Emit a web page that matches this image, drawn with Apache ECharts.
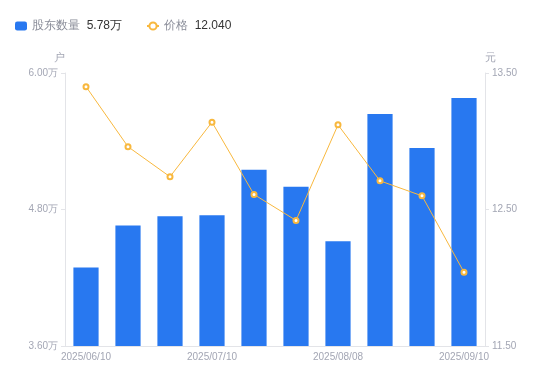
<!DOCTYPE html>
<html><head><meta charset="utf-8">
<script src="https://cdn.jsdelivr.net/npm/echarts@6/dist/echarts.min.js"></script>
<style>html,body{margin:0;padding:0;background:#fff}#c{width:550px;height:381px}</style>
</head><body><div id="c"></div>
<script>
var categories = ['2025/06/10','2025/06/20','2025/06/30','2025/07/10','2025/07/20','2025/07/31','2025/08/08','2025/08/20','2025/08/31','2025/09/10'];
var holders = [4.29, 4.66, 4.74, 4.75, 5.15, 5.00, 4.52, 5.64, 5.34, 5.78];
var prices = [13.40, 12.96, 12.74, 13.14, 12.61, 12.42, 13.12, 12.71, 12.60, 12.04];
var leftTicks = [3.6, 4.8, 6.0];
var rightTicks = [11.5, 12.5, 13.5];

var chart = echarts.init(document.getElementById('c'));
var lastVals = {'股东数量': holders[holders.length-1].toFixed(2) + '万', '价格': prices[prices.length-1].toFixed(3)};
chart.setOption({
  animation: false,
  textStyle: {fontFamily: 'sans-serif'},
  legend: {
    left: 10, top: 15, itemGap: 24, itemWidth: 12, itemHeight: 9,
    data: ['股东数量', '价格'],
    formatter: function (n) { return '{n|' + n + '}  {v|' + lastVals[n] + '}'; },
    textStyle: {rich: {n: {fontSize: 12, color: '#8a8d99'}, v: {fontSize: 12, color: '#333'}}}
  },
  grid: {left: 65, right: 65, top: 73, bottom: 35},
  xAxis: {
    type: 'category', data: categories,
    axisLine: {lineStyle: {color: '#e3e4e8'}},
    axisTick: {show: false},
    axisLabel: {interval: 2, color: '#a3a6b4', fontSize: 10, margin: 6}
  },
  yAxis: [{
    type: 'value', name: '户', min: leftTicks[0], max: leftTicks[2], interval: 1.2,
    nameTextStyle: {color: '#a3a6b4', fontSize: 11, padding: [0, 0, 0, -12]}, nameGap: 10,
    axisLine: {show: true, lineStyle: {color: '#e3e4e8'}},
    axisTick: {show: true, length: 4, lineStyle: {color: '#e3e4e8'}},
    splitLine: {show: false},
    axisLabel: {color: '#a3a6b4', fontSize: 10, margin: 7, formatter: function (v) { return v.toFixed(2) + '万'; }}
  }, {
    type: 'value', name: '元', min: rightTicks[0], max: rightTicks[2], interval: 1,
    nameTextStyle: {color: '#a3a6b4', fontSize: 11, padding: [0, 0, 0, 10]}, nameGap: 10,
    axisLine: {show: true, lineStyle: {color: '#e3e4e8'}},
    axisTick: {show: true, length: 4, lineStyle: {color: '#e3e4e8'}},
    splitLine: {show: false},
    axisLabel: {color: '#a3a6b4', fontSize: 10, margin: 7, formatter: function (v) { return v.toFixed(2); }}
  }],
  series: [{
    name: '股东数量', type: 'bar', data: holders, barWidth: '60%',
    legendIcon: 'path://M0,0M12,9M1.5,0h9v9h-9z',
    itemStyle: {color: '#2878f0'}
  }, {
    name: '价格', type: 'line', yAxisIndex: 1, data: prices,
    symbol: 'emptyCircle', symbolSize: 5,
    lineStyle: {color: '#f8b83e', width: 1},
    itemStyle: {color: '#f8b83e', borderWidth: 2}
  }]
});
</script></body></html>
